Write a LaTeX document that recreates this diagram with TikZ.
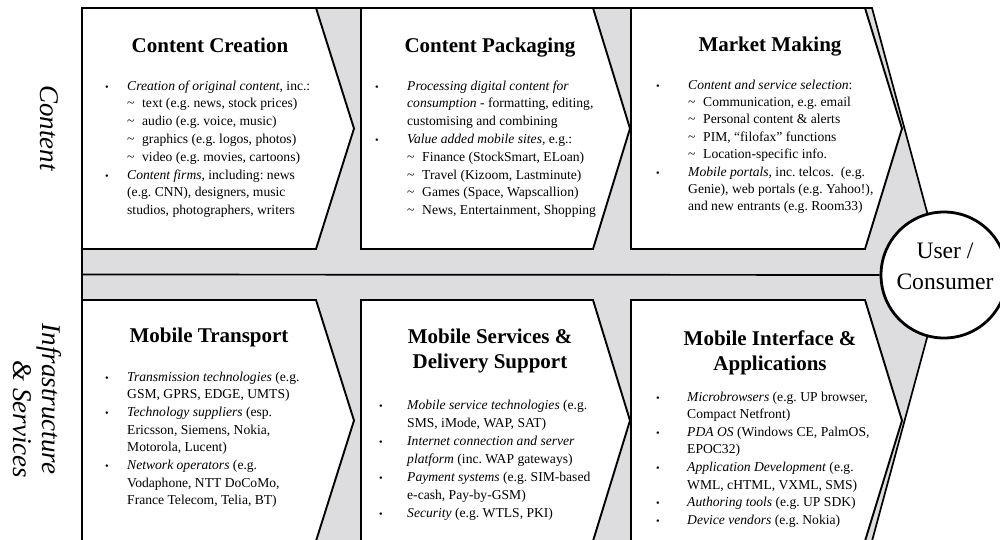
\documentclass[tikz,border=0pt]{standalone}
\usepackage{fontspec}
\setmainfont{Liberation Serif}
\usepackage{graphicx}
\frenchspacing
\definecolor{bandgray}{RGB}{221,221,224}
\newlength{\bw}
\newcommand{\bulpt}{\raisebox{-0.02em}{\scalebox{0.75}{\textbullet}}}
\newcommand{\Bu}{\makebox[\bw][l]{\bulpt}}
\newcommand{\Co}{\hspace*{\bw}}
\newcommand{\Ti}{\hspace*{\bw}\makebox[15pt][l]{\textasciitilde}}
\begin{document}
\begin{tikzpicture}[x=1pt,y=-1pt,
  band/.style={fill=bandgray, draw=black, line width=1.7pt, line join=miter},
  chev/.style={fill=white, draw=black, line width=1.9pt, line join=miter},
  ttl/.style={inner sep=0pt, anchor=base, font=\fontsize{21}{25}\selectfont\bfseries},
  body/.style={inner sep=0pt, anchor=base west},
  side/.style={inner sep=0pt, rotate=-90, font=\fontsize{27}{29}\selectfont\itshape}]
\useasboundingbox (0,0) rectangle (1000,539);
% big background chevron
\coordinate (tip) at (944,275);
\coordinate (midL) at (82,274.5);
\draw[band] (82,8) -- (872,8) -- (tip) -- (872,541) -- (82,541) -- cycle;
% user circle
\node[circle, draw=black, fill=white, line width=2.8pt, minimum size=126pt, inner sep=0pt] (user) at (tip) {};
\draw[line width=1.7pt] (midL) -- (user);
% top row chevrons
\draw[chev] (82,8) -- (316,8) -- (354,128.5) -- (316,249) -- (82,249) -- cycle;
\draw[chev] (361,8) -- (593,8) -- (630,128.5) -- (593,249) -- (361,249) -- cycle;
\draw[chev] (631,8) -- (865,8) -- (902,128.5) -- (865,249) -- (631,249) -- cycle;
% bottom row chevrons
\draw[chev] (82,300) -- (316,300) -- (354,420.5) -- (316,541) -- (82,541) -- cycle;
\draw[chev] (361,300) -- (593,300) -- (630,420.5) -- (593,541) -- (361,541) -- cycle;
\draw[chev] (631,300) -- (865,300) -- (902,420.5) -- (865,541) -- (631,541) -- cycle;
% user text
\node[inner sep=0pt, font=\fontsize{23.6}{31}\selectfont] (usertext) at (945,268)
  {\begin{tabular}{@{}c@{}}User /\\Consumer\end{tabular}};
% side labels
\node[side] (lcontent) at (49,128) {Content};
\node[side] (linfra) at (34,401)
  {\begin{tabular}{@{}l@{}}Infrastructure\\\hspace*{37pt}\& Services\end{tabular}};
% titles
\node[ttl] (h1) at (210,52) {Content Creation};
\node[ttl] (h2) at (490,52) {Content Packaging};
\node[ttl] (h3) at (770,51) {Market Making};
\node[ttl] (h4) at (209,342) {Mobile Transport};
\node[ttl] (h5) at (490,343) {\begin{tabular}[t]{@{}c@{}}Mobile Services \&\\Delivery Support\end{tabular}};
\node[ttl] (h6) at (770,345) {\begin{tabular}[t]{@{}c@{}}Mobile Interface \&\\Applications\end{tabular}};
% body texts
\node[body, font=\fontsize{13.6}{17.8}\selectfont] (b1) at (105,90) {\setlength{\bw}{22pt}%
\begin{tabular}[t]{@{}l@{}}
\Bu\textit{Creation of original content}, inc.:\\
\Ti text (e.g. news, stock prices)\\
\Ti audio (e.g. voice, music)\\
\Ti graphics (e.g. logos, photos)\\
\Ti video (e.g. movies, cartoons)\\
\Bu\textit{Content firms}, including: news\\
\Co (e.g. CNN), designers, music\\
\Co studios, photographers, writers
\end{tabular}};
\node[body, font=\fontsize{13.6}{17.8}\selectfont] (b2) at (375,90) {\setlength{\bw}{32pt}%
\begin{tabular}[t]{@{}l@{}}
\Bu\textit{Processing digital content for}\\
\Co\textit{consumption} - formatting, editing,\\
\Co customising and combining\\
\Bu\textit{Value added mobile sites}, e.g.:\\
\Ti Finance (StockSmart, ELoan)\\
\Ti Travel (Kizoom, Lastminute)\\
\Ti Games (Space, Wapscallion)\\
\Ti News, Entertainment, Shopping
\end{tabular}};
\node[body, font=\fontsize{13.6}{17.4}\selectfont] (b3) at (656,89) {\setlength{\bw}{32pt}%
\begin{tabular}[t]{@{}l@{}}
\Bu\textit{Content and service selection}:\\
\Ti Communication, e.g. email\\
\Ti Personal content \& alerts\\
\Ti PIM, “filofax” functions\\
\Ti Location-specific info.\\
\Bu\textit{Mobile portals}, inc. telcos.\ \ (e.g.\\
\Co Genie), web portals (e.g. Yahoo!),\\
\Co and new entrants (e.g. Room33)
\end{tabular}};
\node[body, font=\fontsize{13.6}{17.7}\selectfont] (b4) at (105,381) {\setlength{\bw}{22pt}%
\begin{tabular}[t]{@{}l@{}}
\Bu\textit{Transmission technologies} (e.g.\\
\Co GSM, GPRS, EDGE, UMTS)\\
\Bu\textit{Technology suppliers} (esp.\\
\Co Ericsson, Siemens, Nokia,\\
\Co Motorola, Lucent)\\
\Bu\textit{Network operators} (e.g.\\
\Co Vodaphone, NTT DoCoMo,\\
\Co France Telecom, Telia, BT)
\end{tabular}};
\node[body, font=\fontsize{13.6}{18}\selectfont] (b5) at (379,409) {\setlength{\bw}{28pt}%
\begin{tabular}[t]{@{}l@{}}
\Bu\textit{Mobile service technologies} (e.g.\\
\Co SMS, iMode, WAP, SAT)\\
\Bu\textit{Internet connection and server}\\
\Co\textit{platform} (inc. WAP gateways)\\
\Bu\textit{Payment systems} (e.g. SIM-based\\
\Co e-cash, Pay-by-GSM)\\
\Bu\textit{Security} (e.g. WTLS, PKI)
\end{tabular}};
\node[body, font=\fontsize{13.6}{17.6}\selectfont] (b6) at (656,401) {\setlength{\bw}{31pt}%
\begin{tabular}[t]{@{}l@{}}
\Bu\textit{Microbrowsers} (e.g. UP browser,\\
\Co Compact Netfront)\\
\Bu\textit{PDA OS} (Windows CE, PalmOS,\\
\Co EPOC32)\\
\Bu\textit{Application Development} (e.g.\\
\Co WML, cHTML, VXML, SMS)\\
\Bu\textit{Authoring tools} (e.g. UP SDK)\\
\Bu\textit{Device vendors} (e.g. Nokia)
\end{tabular}};
\end{tikzpicture}
\end{document}
